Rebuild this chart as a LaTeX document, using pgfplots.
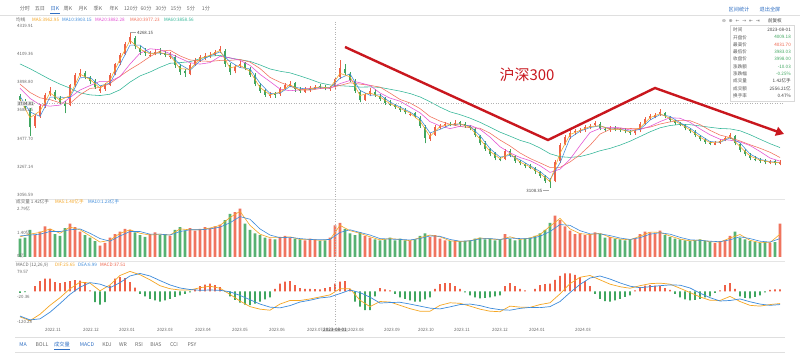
\documentclass[border=0pt]{standalone}
\usepackage{fontspec}
\setmainfont{Noto Sans CJK SC}
\newfontfamily\sym{DejaVu Sans}
\usepackage{pgfplots}
\pgfplotsset{compat=1.18}
\usepackage{pgfplotstable}
\usetikzlibrary{arrows.meta}
\definecolor{upred}{HTML}{EE6148}
\definecolor{dngreen}{HTML}{3FA65F}
\definecolor{ma5}{HTML}{F5A623}
\definecolor{ma10}{HTML}{3D8BDB}
\definecolor{ma20}{HTML}{E34FD3}
\definecolor{ma30}{HTML}{F2705A}
\definecolor{ma60}{HTML}{2FB596}
\definecolor{annred}{HTML}{C9171E}
\definecolor{txtgray}{HTML}{6A6A6A}
\definecolor{linkblue}{HTML}{2F6FC4}
\newcommand\fs[1]{\fontsize{#1}{#1}\selectfont}
\pgfplotsset{candle/.style={only marks, mark=*, mark size=0pt, mark options={draw=none, fill=none}}}

\pgfplotstableread{
x o h l c v
20 3790 3805 3745 3760 1.05
25 3758 3770 3690 3700 1.10
30 3690 3700 3495 3560 1.55
35 3570 3655 3555 3640 1.25
40 3645 3735 3630 3720 1.45
45 3715 3815 3705 3800 1.75
50 3805 3858 3790 3830 1.60
55 3825 3835 3760 3770 1.30
60 3775 3790 3735 3750 1.20
65 3740 3755 3665 3720 1.65
70 3725 3880 3715 3870 1.90
75 3875 3960 3860 3950 1.70
80 3945 3990 3930 3960 1.45
85 3965 3975 3915 3930 1.25
90 3925 3940 3880 3900 1.10
95 3905 3915 3845 3860 0.90
100 3830 3865 3815 3840 0.65
105 3845 3885 3830 3870 0.80
110 3875 3960 3865 3950 1.10
115 3955 4040 3945 4030 1.30
120 4035 4110 4020 4100 1.45
125 4105 4195 4095 4180 1.60
130 4190 4268 4180 4230 1.55
135 4225 4240 4140 4160 1.40
140 4150 4165 4100 4120 1.25
145 4125 4150 4090 4110 1.15
150 4095 4130 4080 4100 1.30
155 4105 4145 4095 4120 1.40
160 4125 4150 4095 4110 1.25
165 4110 4130 4080 4100 1.30
170 4085 4120 4070 4090 1.20
175 4080 4095 4000 4020 1.55
180 4015 4030 3950 3970 1.70
185 3975 3990 3935 3960 1.50
190 3955 4035 3945 4020 1.65
195 4025 4075 4015 4060 1.50
200 4055 4095 4045 4080 1.60
205 4085 4110 4060 4090 1.70
210 4095 4120 4075 4100 1.65
215 4100 4135 4090 4120 1.75
220 4125 4160 4115 4140 1.85
225 4130 4140 4010 4030 2.10
230 4025 4040 3950 3970 2.45
235 3975 4025 3960 4010 2.55
240 4015 4050 4000 4030 2.75
245 4035 4045 3985 4000 1.90
250 3995 4010 3935 3950 1.55
255 3945 3960 3865 3880 1.35
260 3875 3890 3815 3830 1.25
265 3835 3845 3785 3800 1.10
270 3795 3825 3780 3800 1.05
275 3810 3820 3780 3800 1.00
280 3805 3855 3795 3840 1.15
285 3845 3885 3835 3870 1.20
290 3865 3900 3855 3880 1.10
295 3885 3895 3825 3840 1.05
300 3845 3855 3815 3830 1.00
305 3825 3855 3815 3840 0.95
310 3835 3865 3825 3850 1.05
315 3855 3875 3840 3860 1.00
320 3865 3880 3845 3860 0.90
325 3860 3870 3835 3850 0.95
330 3845 3865 3830 3850 1.10
335 3855 3935 3845 3920 1.80
340 3930 4060 3920 4000 1.95
345 3995 4030 3945 3960 1.60
350 3955 3970 3895 3910 1.35
355 3905 3915 3815 3830 1.25
360 3825 3835 3745 3760 1.40
365 3765 3815 3755 3800 1.20
370 3805 3850 3790 3830 1.10
375 3825 3840 3785 3800 1.00
380 3795 3805 3755 3770 0.95
385 3775 3785 3725 3740 1.00
390 3735 3760 3720 3730 1.10
395 3725 3735 3695 3710 0.95
400 3700 3720 3675 3690 1.05
405 3685 3700 3655 3670 0.95
410 3650 3675 3640 3660 0.90
415 3665 3675 3625 3640 1.00
420 3630 3645 3555 3570 1.20
425 3560 3575 3440 3480 1.35
430 3475 3515 3460 3500 1.15
435 3505 3575 3495 3560 1.25
440 3555 3585 3545 3570 1.05
445 3575 3600 3560 3580 0.95
450 3585 3600 3565 3580 0.90
455 3575 3610 3570 3590 0.95
460 3595 3605 3565 3580 0.85
465 3585 3595 3555 3570 0.90
470 3565 3575 3535 3550 0.95
475 3545 3555 3485 3500 1.05
480 3495 3505 3425 3440 1.10
485 3445 3455 3385 3400 1.00
490 3395 3405 3345 3360 1.05
495 3365 3375 3315 3330 0.95
500 3325 3340 3305 3320 1.00
505 3325 3395 3315 3380 1.30
510 3385 3395 3335 3350 1.05
515 3345 3355 3295 3310 0.95
520 3305 3315 3275 3290 1.00
525 3285 3295 3255 3270 1.05
530 3265 3285 3245 3260 1.10
535 3255 3265 3215 3230 1.20
540 3225 3235 3185 3200 1.35
545 3195 3205 3145 3160 1.55
550 3165 3180 3108 3150 1.95
555 3160 3315 3150 3300 2.35
560 3305 3445 3295 3430 2.10
565 3435 3505 3425 3490 1.75
570 3485 3535 3475 3520 1.50
575 3525 3545 3505 3530 1.30
580 3535 3555 3520 3540 1.35
585 3535 3575 3525 3560 1.25
590 3565 3585 3545 3570 1.30
595 3575 3605 3565 3590 1.40
600 3585 3595 3535 3550 1.30
605 3545 3560 3525 3540 1.10
610 3535 3565 3525 3550 1.15
615 3555 3565 3530 3545 1.05
620 3545 3555 3525 3540 1.00
625 3540 3550 3515 3530 0.95
630 3525 3540 3505 3520 1.00
635 3515 3545 3505 3530 1.05
640 3535 3595 3525 3580 1.30
645 3585 3635 3575 3620 1.45
650 3625 3655 3610 3640 1.40
655 3635 3665 3625 3650 1.30
660 3655 3695 3645 3670 1.50
665 3665 3675 3625 3640 1.25
670 3635 3645 3595 3610 1.15
675 3605 3615 3575 3590 1.05
680 3585 3600 3565 3580 1.00
685 3575 3585 3535 3550 0.95
690 3545 3555 3515 3530 0.90
695 3525 3535 3485 3500 0.95
700 3495 3505 3455 3470 1.00
705 3465 3480 3435 3450 0.90
710 3445 3460 3425 3440 0.85
715 3430 3455 3425 3440 0.80
720 3445 3475 3435 3460 0.90
725 3465 3495 3455 3480 0.95
730 3485 3520 3475 3500 1.20
735 3495 3505 3425 3440 1.45
740 3435 3445 3375 3390 1.10
745 3385 3395 3345 3360 1.00
750 3355 3365 3315 3330 0.90
755 3325 3345 3305 3320 0.85
760 3315 3330 3295 3310 0.80
765 3305 3320 3285 3300 0.85
770 3295 3315 3285 3300 0.80
775 3305 3315 3275 3290 0.85
780 3285 3315 3275 3300 1.90
}\kdata

\pgfplotstableread{
x m5 m10 m20 m30 m60
20 3770 3790 3850 3880 4030
30 3630 3673 3774 3818 3995
40 3680 3640 3726 3778 3955
50 3815 3783 3716 3765 3915
60 3760 3783 3724 3741 3880
70 3795 3780 3780 3736 3850
80 3955 3927 3836 3801 3815
90 3915 3930 3869 3848 3800
100 3850 3867 3901 3855 3795
110 3910 3887 3901 3885 3805
120 4065 4027 3936 3939 3838
130 4205 4170 4029 3989 3895
140 4140 4170 4110 4034 3941
150 4105 4110 4143 4085 3970
160 4115 4110 4136 4126 4005
170 4095 4100 4107 4132 4035
180 3995 4027 4073 4090 4040
190 3990 3983 4039 4060 4047
200 4070 4053 4029 4053 4069
210 4095 4090 4040 4049 4088
220 4130 4120 4087 4056 4094
230 4000 4047 4076 4057 4074
240 4020 4003 4057 4063 4062
250 3975 3993 4019 4044 4049
260 3855 3887 3953 3996 4023
270 3800 3810 3899 3930 3993
280 3820 3813 3843 3894 3976
290 3875 3863 3831 3865 3964
300 3835 3850 3837 3837 3941
310 3845 3840 3850 3835 3916
320 3860 3857 3851 3847 3889
330 3850 3853 3849 3853 3874
340 3960 3923 3884 3870 3868
350 3935 3957 3907 3890 3864
360 3795 3833 3890 3880 3858
370 3815 3797 3870 3871 3859
380 3785 3800 3814 3858 3856
390 3735 3747 3776 3813 3842
400 3700 3710 3753 3766 3828
410 3665 3673 3710 3740 3810
420 3605 3623 3667 3698 3785
430 3490 3517 3601 3639 3749
440 3565 3543 3569 3605 3709
450 3580 3577 3549 3581 3674
460 3585 3583 3566 3565 3653
470 3560 3567 3574 3556 3627
480 3470 3497 3544 3552 3596
490 3380 3400 3486 3515 3560
500 3325 3337 3414 3464 3523
510 3365 3350 3369 3420 3493
520 3300 3317 3334 3368 3462
530 3265 3273 3311 3327 3440
540 3215 3230 3273 3294 3405
550 3155 3170 3223 3260 3362
560 3365 3293 3247 3260 3340
570 3505 3480 3321 3301 3335
580 3535 3530 3423 3355 3341
590 3565 3557 3520 3425 3360
600 3570 3570 3551 3508 3384
610 3545 3547 3557 3544 3402
620 3543 3545 3555 3552 3426
630 3525 3530 3539 3550 3455
640 3555 3543 3542 3548 3490
650 3630 3613 3566 3560 3525
660 3660 3653 3601 3583 3555
670 3625 3640 3630 3599 3572
680 3585 3593 3626 3611 3580
690 3540 3553 3596 3608 3578
700 3485 3500 3547 3579 3569
710 3445 3453 3503 3536 3559
720 3450 3447 3470 3501 3550
730 3490 3480 3463 3482 3547
740 3415 3443 3450 3457 3533
750 3345 3360 3423 3429 3504
760 3315 3320 3379 3403 3470
770 3300 3303 3330 3373 3437
780 3295 3297 3307 3334 3408
}\madata

\pgfplotstableread{
x a b
20 1.15 1.20
30 1.30 1.25
40 1.40 1.30
50 1.60 1.45
60 1.35 1.45
70 1.70 1.55
80 1.55 1.60
90 1.20 1.35
100 0.85 1.05
110 0.95 0.90
120 1.35 1.20
130 1.55 1.45
140 1.35 1.45
150 1.25 1.30
160 1.30 1.30
170 1.25 1.25
180 1.60 1.45
190 1.55 1.55
200 1.55 1.55
210 1.65 1.60
220 1.80 1.70
230 2.25 1.95
240 2.60 2.30
250 1.80 2.15
260 1.30 1.60
270 1.10 1.25
280 1.10 1.10
290 1.15 1.12
300 1.00 1.05
310 1.00 1.00
320 0.95 0.98
330 1.00 1.00
340 1.80 1.40
350 1.50 1.55
360 1.35 1.40
370 1.15 1.25
380 0.98 1.05
390 1.05 1.02
400 1.00 1.00
410 0.93 0.97
420 1.10 1.05
430 1.25 1.20
440 1.15 1.18
450 0.92 1.00
460 0.88 0.90
470 0.92 0.92
480 1.08 1.03
490 1.03 1.05
500 0.98 1.00
510 1.15 1.08
520 1.00 1.05
530 1.08 1.05
540 1.28 1.18
550 1.75 1.45
560 2.20 1.85
570 1.60 1.80
580 1.33 1.50
590 1.28 1.32
600 1.35 1.32
610 1.12 1.22
620 1.02 1.08
630 0.98 1.00
640 1.18 1.10
650 1.42 1.30
660 1.40 1.38
670 1.20 1.30
680 1.02 1.12
690 0.92 0.98
700 0.97 0.95
710 0.87 0.90
720 0.85 0.87
730 1.08 0.98
740 1.28 1.15
750 0.95 1.05
760 0.82 0.90
770 0.82 0.85
780 1.30 1.05
}\vmadata

\pgfplotstableread{
x dif dea
20 -100 -97
30 -115 -112
40 -90 -108
50 -55 -82
60 -25 -48
70 10 -12
80 36 16
90 32 34
100 2 28
110 25 14
120 62 34
130 78 60
140 65 70
150 45 60
160 22 42
170 10 25
180 5 13
190 5 7
200 14 4
210 20 5
220 12 4
230 -12 -2
240 -38 -16
250 -60 -33
260 -70 -50
270 -74 -62
280 -50 -65
290 -36 -56
300 -36 -42
310 -30 -35
320 -22 -26
330 -14 -22
340 10 -9
350 10 5
360 -35 -5
370 -60 -23
380 -40 -46
390 -42 -44
400 -55 -43
410 -68 -50
420 -78 -58
430 -78 -66
440 -55 -69
450 -45 -61
460 -47 -52
470 -58 -50
480 -70 -56
490 -78 -66
500 -80 -72
510 -58 -74
520 -62 -67
530 -63 -63
540 -52 -64
550 -45 -60
560 -10 -40
570 30 -5
580 55 27
590 62 52
600 45 60
610 28 48
620 18 33
630 12 20
640 22 14
650 30 18
660 32 22
670 28 25
680 12 24
690 -5 13
700 -22 -7
710 -35 -25
720 -36 -38
730 -20 -36
740 -40 -30
750 -55 -41
760 -58 -50
770 -52 -55
780 -48 -52
}\macddata

\pgfplotstableread{
x h
20 -6
25 -3
30 0
35 20
40 40
45 50
50 50
55 36
60 32
65 36
70 40
75 44
80 42
85 36
90 4
95 -42
100 -52
105 -42
110 22
115 50
120 56
125 52
130 36
135 14
140 -10
145 -20
150 -30
155 -36
160 -40
165 -36
170 -30
175 -22
180 -16
185 -10
190 -4
195 8
200 20
205 26
210 30
215 24
220 16
225 -2
230 -20
235 -34
240 -44
245 -52
250 -54
255 -48
260 -40
265 -32
270 -24
275 10
280 30
285 38
290 40
295 24
300 12
305 10
310 10
315 9
320 8
325 12
330 16
335 30
340 38
345 40
350 10
355 -40
360 -60
365 -74
370 -74
375 -20
380 12
385 8
390 4
395 -10
400 -24
405 -30
410 -36
415 -40
420 -40
425 -32
430 -24
435 10
440 28
445 32
450 32
455 20
460 10
465 -4
470 -16
475 -24
480 -28
485 -26
490 -24
495 -20
500 -16
505 20
510 32
515 20
520 10
525 4
530 0
535 10
540 24
545 28
550 30
555 45
560 60
565 70
570 70
575 64
580 56
585 40
590 20
595 -10
600 -30
605 -38
610 -40
615 -36
620 -30
625 -22
630 -16
635 4
640 16
645 22
650 24
655 22
660 20
665 12
670 6
675 -10
680 -24
685 -32
690 -36
695 -34
700 -30
705 -24
710 -20
715 -6
720 4
725 24
730 32
735 10
740 -20
745 -26
750 -28
755 -22
760 -16
765 -4
770 6
775 8
780 8
}\histdata

\begin{document}
\begin{tikzpicture}
\path[use as bounding box, fill=white] (0,0) rectangle (800bp,354bp);

% ---------- price panel ----------
\begin{axis}[at={(17bp,156bp)}, anchor=south west, scale only axis,
  width=766bp, height=176bp, xmin=17, xmax=783, ymin=3032.8, ymax=4342.2,
  axis lines=none, clip=true]
\addplot[candle,
  restrict expr to domain={\thisrow{c}-\thisrow{o}}{0:100000},
  error bars/.cd, y dir=plus, y explicit, error mark=none,
  error bar style={draw=upred, line width=0.55bp}]
  table[x=x, y=l, y error expr=\thisrow{h}-\thisrow{l}] {\kdata};
\addplot[candle,
  restrict expr to domain={\thisrow{c}-\thisrow{o}}{0:100000},
  error bars/.cd, y dir=plus, y explicit, error mark=none,
  error bar style={draw=upred, line width=2.6bp}]
  table[x=x, y expr={min(\thisrow{o},\thisrow{c})}, y error expr={abs(\thisrow{c}-\thisrow{o})}] {\kdata};
\addplot[candle,
  restrict expr to domain={\thisrow{o}-\thisrow{c}}{0.001:100000},
  error bars/.cd, y dir=plus, y explicit, error mark=none,
  error bar style={draw=dngreen, line width=0.55bp}]
  table[x=x, y=l, y error expr=\thisrow{h}-\thisrow{l}] {\kdata};
\addplot[candle,
  restrict expr to domain={\thisrow{o}-\thisrow{c}}{0.001:100000},
  error bars/.cd, y dir=plus, y explicit, error mark=none,
  error bar style={draw=dngreen, line width=2.6bp}]
  table[x=x, y expr={min(\thisrow{o},\thisrow{c})}, y error expr={abs(\thisrow{c}-\thisrow{o})}] {\kdata};
\addplot[ma60, line width=0.55bp] table[x=x, y=m60] {\madata};
\addplot[ma30, line width=0.55bp] table[x=x, y=m30] {\madata};
\addplot[ma20, line width=0.55bp] table[x=x, y=m20] {\madata};
\addplot[ma10, line width=0.55bp] table[x=x, y=m10] {\madata};
\addplot[ma5, line width=0.55bp] table[x=x, y=m5] {\madata};
\end{axis}

% ---------- volume panel ----------
\begin{axis}[at={(17bp,97bp)}, anchor=south west, scale only axis,
  width=766bp, height=54bp, xmin=17, xmax=783, ymin=0, ymax=3.075,
  axis lines=none, clip=true]
\addplot[ybar, bar width=2.8bp, bar shift=0pt, fill=upred!88, draw=none,
  restrict expr to domain={\thisrow{c}-\thisrow{o}}{0:100000}]
  table[x=x, y=v] {\kdata};
\addplot[ybar, bar width=2.8bp, bar shift=0pt, fill=dngreen!88, draw=none,
  restrict expr to domain={\thisrow{o}-\thisrow{c}}{0.001:100000}]
  table[x=x, y=v] {\kdata};
\addplot[ma5, line width=0.6bp] table[x=x, y=a] {\vmadata};
\addplot[ma10, line width=0.6bp] table[x=x, y=b] {\vmadata};
\end{axis}

% ---------- MACD panel ----------
\begin{axis}[at={(17bp,29bp)}, anchor=south west, scale only axis,
  width=766bp, height=58bp, xmin=17, xmax=783, ymin=-132.04, ymax=95.24,
  axis lines=none, clip=true]
\addplot[ybar, bar width=1.6bp, bar shift=0pt, fill=upred, draw=none,
  restrict y to domain=0.001:1000] table[x=x, y=h] {\histdata};
\addplot[ybar, bar width=1.6bp, bar shift=0pt, fill=dngreen, draw=none,
  restrict y to domain=-1000:-0.001] table[x=x, y=h] {\histdata};
\addplot[ma5, line width=0.7bp] table[x=x, y=dif] {\macddata};
\addplot[ma10, line width=0.7bp] table[x=x, y=dea] {\macddata};
\end{axis}

% ---------- decorations (pixel coordinates, y downward) ----------
\begin{scope}[x=1bp, y=-1bp, shift={(0bp,354bp)}]
\tikzset{t/.style={inner sep=0pt, font=\fs{4.6}, text=txtgray}}
% separators
\draw[gray!25, line width=0.4bp] (0,15.5) -- (800,15.5);
\draw[gray!20, line width=0.4bp] (15,199.5) -- (785,199.5);
\draw[gray!20, line width=0.4bp] (15,261.5) -- (785,261.5);
\draw[gray!25, line width=0.4bp] (15,337) -- (785,337);
\draw[gray!25, line width=0.4bp] (15,352.5) -- (785,352.5);
% top tabs
\foreach \tt/\xx in {分时/25,五日/40,周K/68,月K/83,季K/98,年K/114,120分/131,60分/146,30分/161,15分/176,5分/191,1分/206}
  \node[t, font=\fs{5.2}] at (\xx,9) {\tt};
\node[inner sep=0pt, font=\fs{5.2}, text=linkblue] at (55,9) {日K};
\draw[linkblue, line width=0.5bp] (50,13.5) -- (60,13.5);
\node[inner sep=0pt, font=\fs{5.2}, text=linkblue] at (739,10) {区间统计};
\node[inner sep=0pt, font=\fs{5.2}, text=linkblue] at (770,10) {退出全屏};
% MA legend
\node[t, anchor=west] at (16,19.5) {均线};
\node[t, anchor=west, text=ma5] at (32,19.5) {MA5:3962.95};
\node[t, anchor=west, text=ma10] at (62,19.5) {MA10:3903.15};
\node[t, anchor=west, text=ma20] at (95,19.5) {MA20:3882.28};
\node[t, anchor=west, text=ma30] at (130,19.5) {MA30:3977.23};
\node[t, anchor=west, text=ma60] at (164,19.5) {MA60:3858.56};
\node[t, anchor=east, font=\sym\fs{4.6}] at (760,21) {⊖\ \ ⊕\ \ ←\ \ →\ \ ⇤\ \ ⇥};
\node[t, anchor=east, text=black!75] at (782,21) {前复权};
% price labels
\foreach \v/\yy in {4319.91/25.5,4109.36/53.8,3898.80/82.1,3688.25/110.4,3477.70/138.7,3267.14/167.0,3056.59/195.3}
  \node[t, anchor=west, font=\fs{4.4}] at (17,\yy) {\v};
% crosshair
\draw[gray!60, dotted, line width=0.5bp] (17,103.6) -- (783,103.6);
\draw[gray!60, dotted, line width=0.5bp] (335,22) -- (335,326);
\node[anchor=west, inner sep=0.6bp, fill=gray!18, font=\fs{4.4}, text=black!80] at (17,103.6) {3734.81};
% high/low marks
\draw[gray!70, line width=0.4bp] (130,32.5) -- (136,32.5);
\node[t, anchor=west, font=\fs{4.4}, text=black!75] at (137,32.5) {4268.15};
\draw[gray!70, line width=0.4bp] (543,190.5) -- (549,190.5);
\node[t, anchor=east, font=\fs{4.4}, text=black!75] at (542.5,190.5) {3108.35};
% annotation
\draw[annred, line width=2.4bp, line join=miter, -{Triangle[length=8bp,width=9bp]}]
  (345,47) -- (548,140) -- (655,88) -- (784,134);
\node[inner sep=0pt, font=\fs{15}, text=annred] at (527,75) {沪深300};
% info box
\draw[gray!30, line width=0.4bp, fill=white] (730,25) rectangle (794,101);
\foreach \lab/\val/\col/\yy in {时间/2023-08-01/black!75/30,开盘价/4009.18/dngreen/37.3,最高价/4031.70/upred/44.6,最低价/3983.03/dngreen/51.9,收盘价/3998.00/dngreen/59.2,涨跌额/-10.03/dngreen/66.5,涨跌幅/-0.25\%/dngreen/73.8,成交量/1.42亿手/black!75/81.1,成交额/2556.21亿/black!75/88.4,换手率/0.47\%/black!75/95.7}{
  \node[t, anchor=west, font=\fs{4.6}, text=black!65] at (733,\yy) {\lab};
  \node[t, anchor=east, font=\fs{4.6}, text=\col] at (791,\yy) {\val};
}
% volume labels
\node[t, anchor=west] at (16,202) {成交量 1.42亿手};
\node[t, anchor=west, text=ma5] at (55,202) {MA5:1.40亿手};
\node[t, anchor=west, text=ma10] at (88,202) {MA10:1.23亿手};
\node[t, anchor=west, font=\fs{4.4}] at (17,208.5) {2.79亿};
\node[t, anchor=west, font=\fs{4.4}] at (17,233) {1.40亿};
\node[t, anchor=west, font=\fs{4.4}] at (17,256) {0亿};
% MACD labels
\node[t, anchor=west] at (16,265) {MACD (12,26,9)};
\node[t, anchor=west, text=ma5] at (55,265) {DIF:25.65};
\node[t, anchor=west, text=ma10] at (78,265) {DEA:6.99};
\node[t, anchor=west, text=upred] at (100,265) {MACD:37.51};
\node[t, anchor=west, font=\fs{4.4}] at (17,271.5) {79.57};
\node[t, anchor=west, font=\fs{4.4}] at (17,296.5) {-20.36};
\node[t, anchor=west, font=\fs{4.4}] at (17,321.5) {-120.28};
% date labels
\foreach \d/\xx in {2022.11/53,2022.12/91,2023.01/127,2023.03/165,2023.04/203,2023.05/240,2023.06/277,2023.07/315,2023.08/356,2023.09/392,2023.10/426,2023.11/462,2023.12/500,2024.01/537,2024.03/583}
  \node[t, font=\fs{4.4}] at (\xx,330) {\d};
\node[inner sep=0.8bp, fill=gray!22, font=\fs{4.6}, text=black!85] at (335,330) {2023-08-01};
% bottom tabs
\foreach \tt/\xx in {BOLL/42,KDJ/107,WR/123,RSI/139,BIAS/156,CCI/174,PSY/192}
  \node[t, font=\fs{5.2}] at (\xx,345) {\tt};
\node[inner sep=0pt, font=\fs{5.2}, text=linkblue] at (23,345) {MA};
\node[inner sep=0pt, font=\fs{5.2}, text=linkblue] at (62,345) {成交量};
\draw[linkblue, line width=0.5bp] (54,349.5) -- (70,349.5);
\node[inner sep=0pt, font=\fs{5.2}, text=linkblue] at (87,345) {MACD};
\end{scope}
\end{tikzpicture}
\end{document}
